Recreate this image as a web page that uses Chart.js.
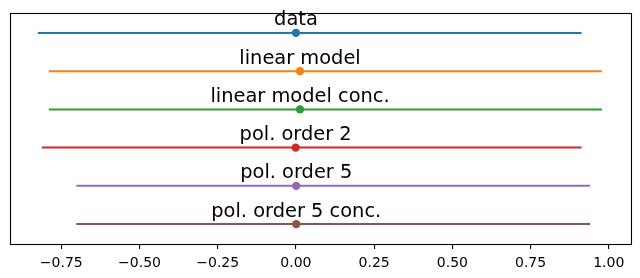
<!DOCTYPE html>
<html>
<head>
<meta charset="utf-8">
<script src="https://cdn.jsdelivr.net/npm/chart.js@4/dist/chart.umd.min.js"></script>
<style>
  html, body { margin: 0; padding: 0; background: #fff; }
  #wrap { width: 640px; height: 278px; }
</style>
</head>
<body>
<div id="wrap"><canvas id="chart" width="640" height="278"></canvas></div>
<script>
// values, top row first
var names = ["data", "linear model", "linear model conc.", "pol. order 2", "pol. order 5", "pol. order 5 conc."];
var lows = [-0.825, -0.79, -0.79, -0.812, -0.702, -0.702];
var highs = [0.913, 0.978, 0.978, 0.913, 0.94, 0.94];
var centers = [0.0, 0.013, 0.013, -0.001, 0.001, 0.001];
var colors = ["#1f77b4", "#ff7f0e", "#2ca02c", "#d62728", "#9467bd", "#8c564b"];
var tickValues = [-0.75, -0.5, -0.25, 0, 0.25, 0.5, 0.75, 1.0];
var tickLabels = ["\u22120.75", "\u22120.50", "\u22120.25", "0.00", "0.25", "0.50", "0.75", "1.00"];

var datasets = [];
names.forEach(function (name, i) {
  var row = names.length - 1 - i;
  datasets.push({
    label: name,
    data: [{ x: lows[i], y: row }, { x: highs[i], y: row }],
    showLine: true,
    borderColor: colors[i],
    borderWidth: 2,
    pointRadius: 0
  });
  datasets.push({
    label: name + " mean",
    data: [{ x: centers[i], y: row }],
    showLine: false,
    backgroundColor: colors[i],
    borderColor: colors[i],
    borderWidth: 0,
    pointRadius: 4.2
  });
});

var boxAndText = {
  id: "boxAndText",
  afterDatasetsDraw: function (chart) {
    var ctx = chart.ctx, a = chart.chartArea;
    var xs = chart.scales.x, ys = chart.scales.y;
    ctx.save();
    ctx.strokeStyle = "#000";
    ctx.lineWidth = 1.1;
    ctx.strokeRect(Math.round(a.left) + 0.5, Math.round(a.top) + 0.5,
      Math.round(a.right - a.left), Math.round(a.bottom - a.top));
    ctx.fillStyle = "#000";
    ctx.font = '19.4px "DejaVu Sans"';
    ctx.textAlign = "center";
    ctx.textBaseline = "alphabetic";
    names.forEach(function (name, i) {
      var row = names.length - 1 - i;
      ctx.fillText(name, xs.getPixelForValue(centers[i]), ys.getPixelForValue(row) - 7.5);
    });
    ctx.restore();
  }
};

new Chart(document.getElementById("chart").getContext("2d"), {
  type: "scatter",
  data: { datasets: datasets },
  options: {
    responsive: false,
    animation: false,
    events: [],
    layout: { padding: { left: 10, right: 9, top: 13, bottom: 1 } },
    plugins: { legend: { display: false }, tooltip: { enabled: false } },
    scales: {
      x: {
        type: "linear",
        min: -0.914,
        max: 1.071,
        afterBuildTicks: function (scale) {
          scale.ticks = tickValues.map(function (v) { return { value: v }; });
        },
        grid: { display: true, drawOnChartArea: false, drawTicks: true, tickLength: 5, color: "#000", lineWidth: 1.1 },
        border: { display: false },
        ticks: {
          color: "#000",
          padding: 7,
          maxRotation: 0,
          autoSkip: false,
          font: { family: "DejaVu Sans", size: 14, lineHeight: 1.0 },
          callback: function (v) {
            var k = tickValues.indexOf(v);
            return k >= 0 ? tickLabels[k] : "";
          }
        }
      },
      y: {
        display: false,
        min: -0.52,
        max: 5.52
      }
    }
  },
  plugins: [boxAndText]
});
</script>
</body>
</html>
